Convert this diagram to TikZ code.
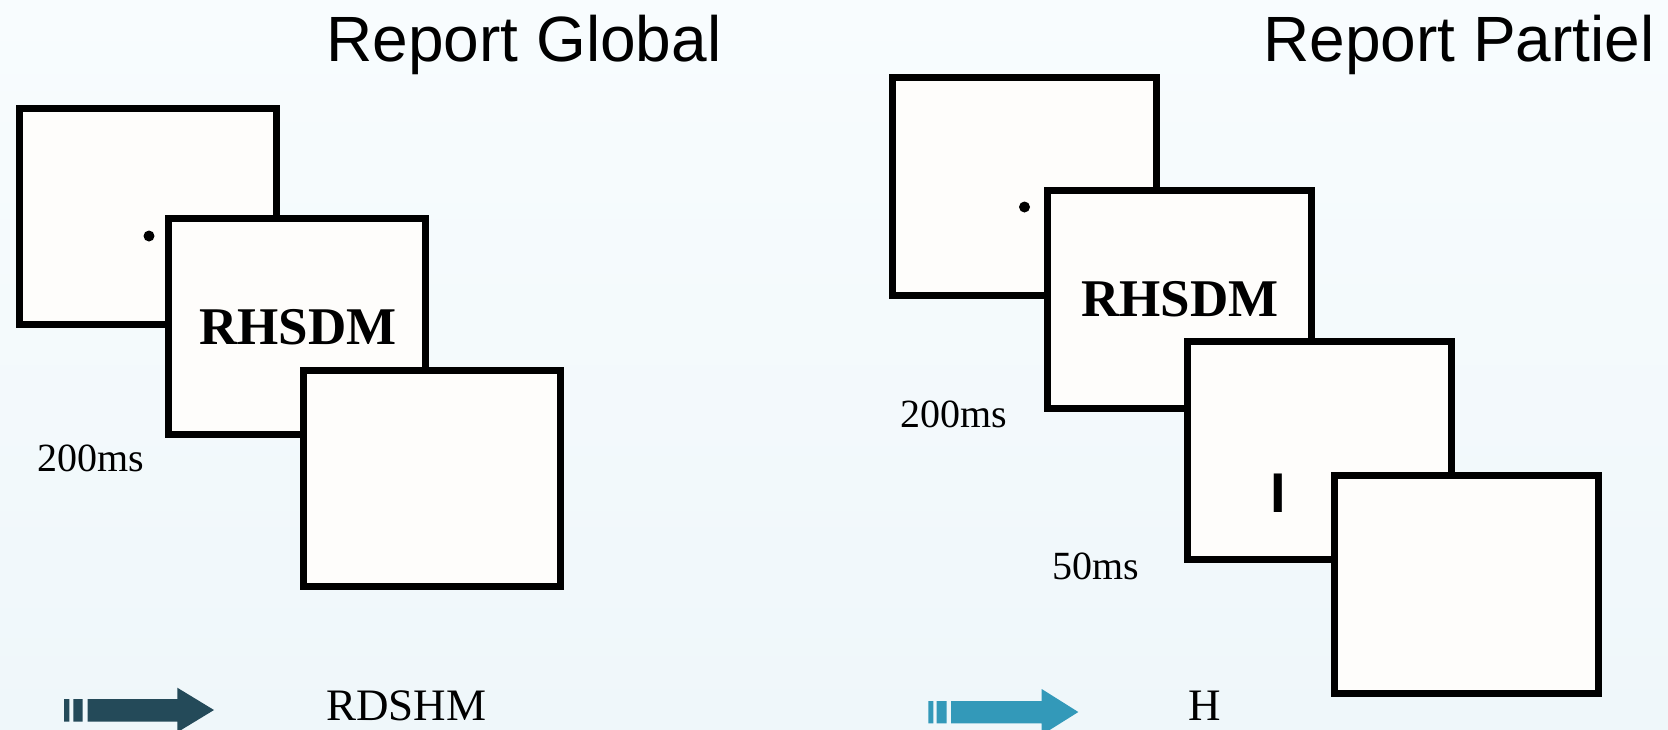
\documentclass[tikz,border=0pt]{standalone}
\usepackage{fontspec}
\setmainfont{Liberation Serif}
\newfontfamily\headfont{Liberation Sans}
\definecolor{bgtop}{RGB}{248,252,254}
\definecolor{bgbot}{RGB}{239,247,250}
\definecolor{screenfill}{RGB}{254,253,251}
\definecolor{arrowdark}{RGB}{36,74,89}
\definecolor{arrowlight}{RGB}{51,153,185}

\begin{document}
\begin{tikzpicture}[x=0.5pt,y=-0.5pt,
  screenbox/.style={draw=black,line width=3.5pt,fill=screenfill,
    inner sep=0pt,outer sep=0pt},
  leftscreen/.style={screenbox,minimum width=128.5pt,minimum height=108pt},
  rightscreen/.style={screenbox,minimum width=132pt,minimum height=109pt},
  title/.style={font=\headfont\fontsize{32}{38}\selectfont,inner sep=0pt,anchor=base},
  letters/.style={font=\bfseries\fontsize{26.5}{30}\selectfont,inner sep=0pt,anchor=base},
  timing/.style={font=\fontsize{20}{24}\selectfont,inner sep=0pt,anchor=base west},
  answer/.style={font=\fontsize{22.5}{27}\selectfont,inner sep=0pt},
  fixdot/.style={circle,fill=black,inner sep=0pt,minimum size=5.5pt},
]
\useasboundingbox (0,0) rectangle (1668,729);
\clip (0,0) rectangle (1668,729);
\shade[top color=bgtop,bottom color=bgbot] (0,0) rectangle (1668,729);

% ---------- whole report ----------
\node[title] (titleG) at (524,61) {Report Global};

\node[leftscreen] (g1) at (148,216) {};
\node[fixdot] (gdot) at (149,236) {};
\node[leftscreen] (g2) at (297,326.5) {};
\node[letters] (gletters) at (298,344) {RHSDM};
\node[leftscreen] (g3) at (432,478.5) {};
\node[timing] (gtime) at (37,471) {200ms};

\fill[arrowdark] (64,699) rectangle (69.3,721.7)
  (73.3,699) rectangle (82.7,721.7)
  (87.7,699) -- (177.3,699) -- (177.3,687.7) -- (214,710)
  -- (177.3,732.3) -- (177.3,721.7) -- (87.7,721.7) -- cycle;
\node[answer,anchor=base west] (ganswer) at (326,720) {RDSHM};

% ---------- partial report ----------
\node[title] (titleP) at (1459,61) {Report Partiel};

\node[rightscreen] (p1) at (1024.5,186.5) {};
\node[fixdot] (pdot) at (1024.5,207) {};
\node[rightscreen] (p2) at (1179.5,299) {};
\node[letters] (pletters) at (1180,316) {RHSDM};
\node[rightscreen] (p3) at (1319,450.5) {};
\node[font=\headfont\bfseries\fontsize{28}{32}\selectfont,inner sep=0pt,anchor=base]
  (pcue) at (1278.5,512) {I};
\node[rightscreen] (p4) at (1466,584) {};
\node[timing] (ptime1) at (900,427) {200ms};
\node[timing] (ptime2) at (1052,579) {50ms};

\fill[arrowlight] (928.3,701) rectangle (933.3,723.3)
  (936.7,701) rectangle (946.7,723.3)
  (951,701) -- (1041.7,701) -- (1041.7,689) -- (1078.3,712)
  -- (1041.7,735) -- (1041.7,723.3) -- (951,723.3) -- cycle;
\node[answer,anchor=base] (panswer) at (1204.5,720) {H};
\end{tikzpicture}
\end{document}
